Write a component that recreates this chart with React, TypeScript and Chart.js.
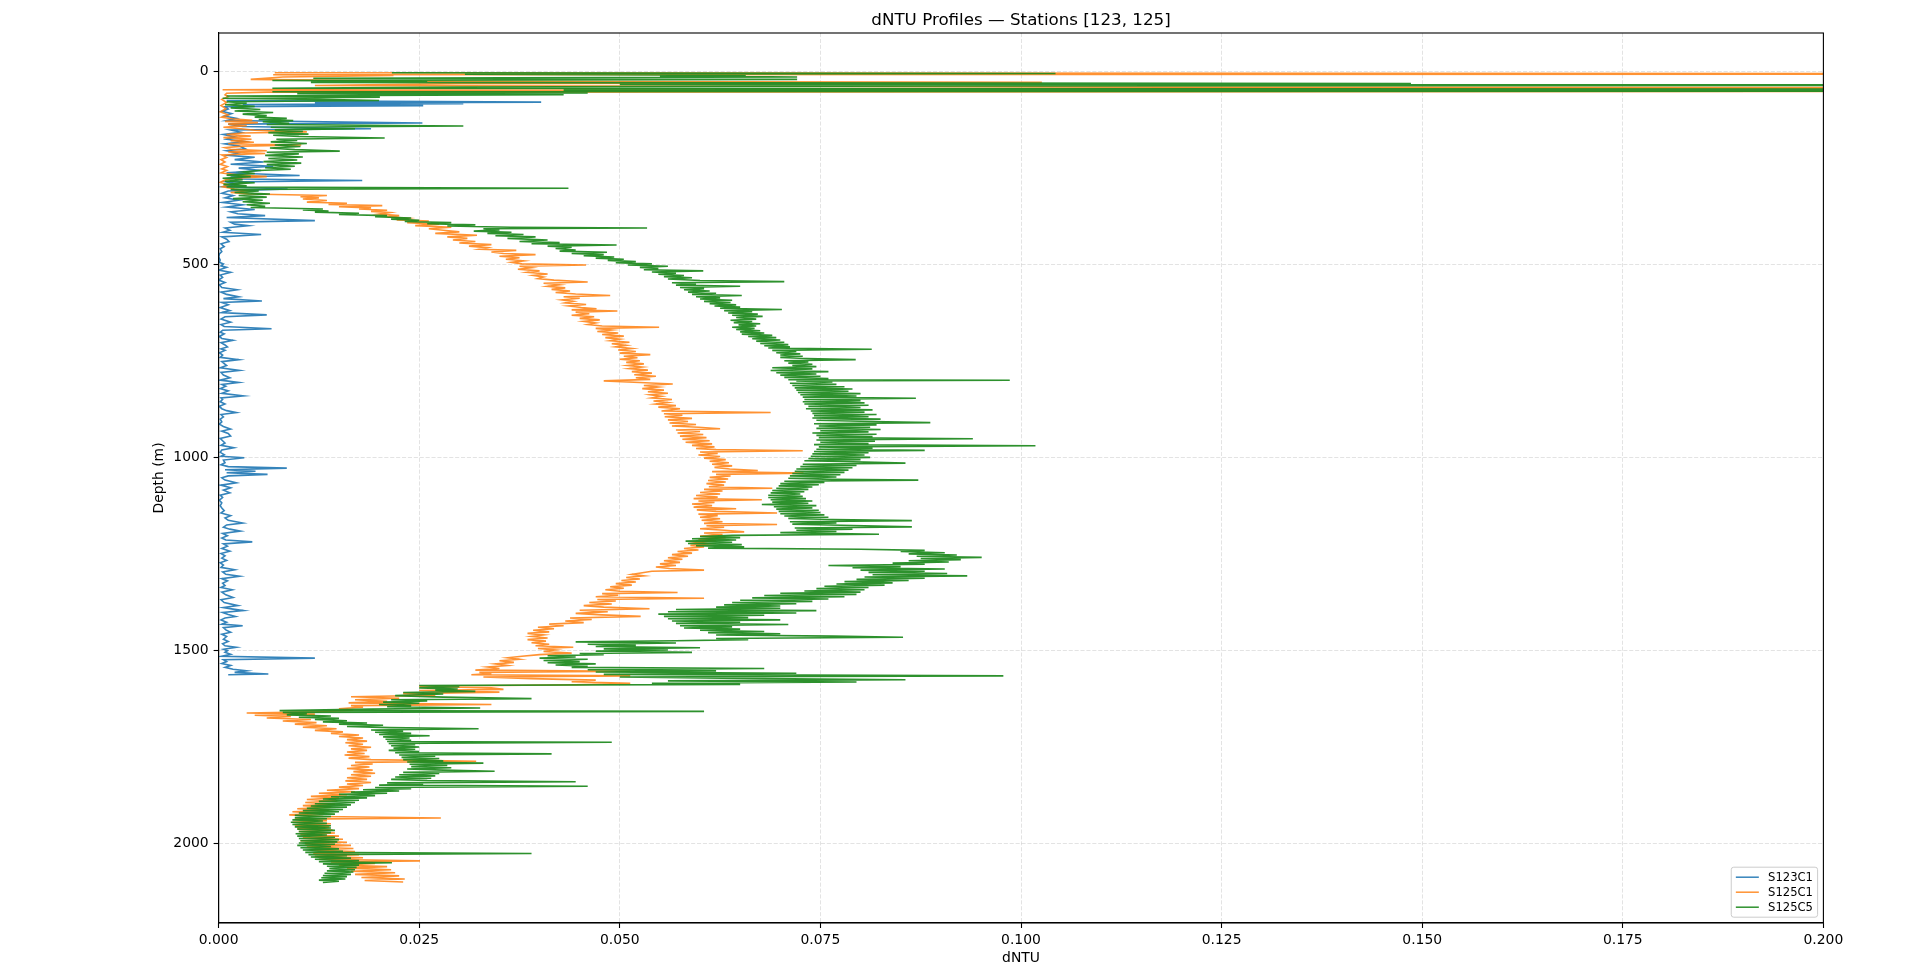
import React, { useEffect, useRef } from "react";
import { Chart, registerables } from "chart.js";

Chart.register(...registerables);

const CHART_TITLE = "dNTU Profiles — Stations [123, 125]";
const X_AXIS_LABEL = "dNTU";
const Y_AXIS_LABEL = "Depth (m)";
const X_TICK_VALUES = [0, 0.025, 0.05, 0.075, 0.1, 0.125, 0.15, 0.175, 0.2];
const Y_TICK_VALUES = [0, 500, 1000, 1500, 2000];
const X_RANGE = [0, 0.2];
const Y_RANGE = [-100, 2205];
const SERIES_LABELS = ["S123C1", "S125C1", "S125C5"];

// [depth (m), dNTU]
const S123C1: [number, number][] = [
  [75, 0.001], [79, 0.0402], [81, 0.012], [83, 0.0305], [85, 0.003], [88, 0.0255], [91, 0.0008], [97, 0.0012],
  [103, 0.0004], [109, 0.0016], [115, 0.0007], [121, 0.0022], [127, 0.001], [133, 0.0254], [136, 0.0012], [142, 0.003],
  [148, 0.019], [151, 0.0015], [157, 0.0028], [163, 0.0006], [169, 0.002], [175, 0.001], [181, 0.0032], [187, 0.0008],
  [193, 0.0026], [200, 0.0033], [205, 0.001], [211, 0.0024], [217, 0.0012], [222, 0.0045], [228, 0.002], [234, 0.0056],
  [240, 0.0015], [245, 0.0068], [250, 0.0025], [256, 0.0053], [262, 0.001], [269, 0.0101], [273, 0.0015], [278, 0.003],
  [282, 0.0179], [286, 0.001], [292, 0.0022], [298, 0.0006], [304, 0.0086], [309, 0.0012], [315, 0.0004], [321, 0.0018],
  [327, 0.0008], [333, 0.0025], [339, 0.0005], [345, 0.003], [351, 0.001], [357, 0.0045], [363, 0.0015], [368, 0.0024],
  [373, 0.0058], [378, 0.001], [386, 0.012], [390, 0.0015], [395, 0.002], [399, 0.0037], [405, 0.0008], [411, 0.0014],
  [416, 0.0005], [422, 0.0053], [428, 0.0004], [434, 0.001], [440, 0.0013], [446, 0.0003], [453, 0.0007], [459, 0.0002],
  [466, 0.0004], [472, 0.0001], [480, 0.0], [488, 0.0002], [494, 0.0001], [498, 0.0006], [503, 0.0003], [507, 0.001],
  [514, 0.0], [520, 0.0015], [527, 0.0002], [533, 0.0005], [540, 0.0], [546, 0.0008], [552, 0.0001], [559, 0.0004],
  [565, 0.0023], [571, 0.0003], [577, 0.001], [583, 0.0025], [588, 0.0006], [594, 0.0054], [598, 0.0004], [604, 0.0012],
  [611, 0.0002], [619, 0.0014], [624, 0.0004], [630, 0.006], [635, 0.0008], [641, 0.0003], [649, 0.0015], [655, 0.0003],
  [660, 0.0007], [666, 0.0066], [670, 0.0005], [675, 0.0002], [679, 0.0007], [686, 0.0001], [691, 0.0004], [696, 0.0018],
  [702, 0.0003], [708, 0.0008], [713, 0.0011], [718, 0.0003], [722, 0.0008], [728, 0.0001], [734, 0.0005], [740, 0.0002],
  [746, 0.0025], [751, 0.0004], [756, 0.0007], [761, 0.001], [767, 0.0002], [774, 0.0026], [779, 0.0003], [786, 0.0006],
  [793, 0.0014], [799, 0.0002], [805, 0.0025], [810, 0.0004], [815, 0.0009], [821, 0.0002], [827, 0.0012], [833, 0.0004],
  [840, 0.0031], [845, 0.0003], [849, 0.0005], [855, 0.0002], [861, 0.0008], [867, 0.0001], [873, 0.0004], [878, 0.001],
  [883, 0.0022], [888, 0.0003], [894, 0.0006], [900, 0.0002], [907, 0.0004], [913, 0.0001], [919, 0.0006], [926, 0.0015],
  [931, 0.0004], [937, 0.0012], [944, 0.0015], [950, 0.0002], [956, 0.0005], [962, 0.0008], [968, 0.0003], [974, 0.0019],
  [980, 0.0004], [986, 0.0002], [992, 0.0007], [996, 0.0003], [1000, 0.0032], [1006, 0.0006], [1013, 0.0008], [1018, 0.0003],
  [1023, 0.0012], [1027, 0.0085], [1031, 0.0008], [1035, 0.0046], [1039, 0.001], [1043, 0.0061], [1047, 0.0012], [1052, 0.0004],
  [1058, 0.0008], [1065, 0.0022], [1071, 0.0003], [1078, 0.0015], [1084, 0.0006], [1091, 0.0014], [1097, 0.0002], [1103, 0.0005],
  [1110, 0.0001], [1117, 0.0004], [1124, 0.0002], [1130, 0.0004], [1137, 0.0007], [1143, 0.0003], [1150, 0.0015], [1156, 0.0008],
  [1162, 0.0012], [1169, 0.003], [1174, 0.001], [1180, 0.0006], [1185, 0.0014], [1190, 0.0027], [1196, 0.0005], [1202, 0.0011],
  [1208, 0.0004], [1213, 0.0009], [1218, 0.0042], [1223, 0.0006], [1229, 0.0011], [1235, 0.0004], [1242, 0.0014], [1248, 0.0003],
  [1254, 0.0008], [1260, 0.0004], [1266, 0.001], [1272, 0.0002], [1278, 0.0006], [1284, 0.0003], [1290, 0.002], [1296, 0.0005],
  [1302, 0.0009], [1307, 0.0026], [1313, 0.0004], [1319, 0.0011], [1325, 0.0005], [1331, 0.0008], [1336, 0.0003], [1342, 0.0017],
  [1348, 0.0004], [1355, 0.0009], [1362, 0.0018], [1368, 0.0003], [1375, 0.0007], [1383, 0.0024], [1388, 0.0006], [1392, 0.0018],
  [1396, 0.0031], [1401, 0.0005], [1406, 0.0012], [1411, 0.0021], [1415, 0.0008], [1420, 0.0003], [1426, 0.001], [1431, 0.0004],
  [1435, 0.003], [1440, 0.0006], [1446, 0.0009], [1452, 0.0015], [1457, 0.0004], [1463, 0.001], [1470, 0.0006], [1476, 0.0012],
  [1482, 0.0005], [1487, 0.0008], [1491, 0.0022], [1496, 0.0006], [1500, 0.0011], [1504, 0.0008], [1509, 0.0015], [1514, 0.0004],
  [1519, 0.012], [1523, 0.0006], [1528, 0.001], [1533, 0.0004], [1538, 0.0015], [1543, 0.0008], [1548, 0.0018], [1552, 0.0035],
  [1556, 0.002], [1560, 0.0062], [1562, 0.0012],
];

const S125C1: [number, number][] = [
  [3, 0.007], [6, 0.26], [8, 0.0068], [10, 0.0218], [14, 0.008], [20, 0.004], [25, 0.0262], [28, 0.1026],
  [31, 0.03], [36, 0.012], [40, 0.1189], [42, 0.25], [45, 0.02], [47, 0.0005], [49, 0.0123], [50, 0.0226],
  [51, 0.24], [53, 0.006], [56, 0.001], [60, 0.0008], [65, 0.0012], [72, 0.0004], [80, 0.001], [88, 0.0003],
  [96, 0.0009], [104, 0.0002], [112, 0.0012], [118, 0.0004], [122, 0.0016], [126, 0.0042], [129, 0.0008], [132, 0.0049],
  [136, 0.0012], [140, 0.0035], [144, 0.0006], [148, 0.0028], [152, 0.0045], [156, 0.011], [159, 0.003], [163, 0.001],
  [167, 0.004], [171, 0.0006], [175, 0.0041], [179, 0.0015], [183, 0.0044], [187, 0.0012], [190, 0.0103], [193, 0.003],
  [197, 0.0008], [201, 0.0015], [205, 0.006], [208, 0.0012], [212, 0.0058], [216, 0.0004], [222, 0.001], [228, 0.0003],
  [234, 0.0008], [240, 0.0002], [246, 0.0011], [252, 0.0004], [256, 0.001], [262, 0.0003], [268, 0.0025], [272, 0.006],
  [276, 0.0018], [281, 0.0008], [287, 0.0002], [293, 0.0012], [298, 0.0005], [304, 0.002], [309, 0.0035], [313, 0.0015],
  [317, 0.0038], [321, 0.0135], [324, 0.0102], [327, 0.0125], [330, 0.0105], [334, 0.0135], [338, 0.011], [341, 0.016],
  [344, 0.0137], [347, 0.0204], [350, 0.015], [353, 0.019], [356, 0.0175], [359, 0.021], [362, 0.019], [365, 0.0213],
  [369, 0.02], [373, 0.0225], [376, 0.021], [380, 0.0236], [384, 0.0222], [387, 0.0262], [391, 0.0235], [395, 0.0275],
  [399, 0.0245], [403, 0.029], [407, 0.0262], [411, 0.028], [415, 0.03], [419, 0.027], [424, 0.0322], [428, 0.0285],
  [432, 0.031], [436, 0.0292], [440, 0.032], [444, 0.03], [448, 0.034], [452, 0.0312], [456, 0.0335], [460, 0.0325],
  [463, 0.0371], [467, 0.034], [471, 0.0355], [474, 0.0395], [478, 0.035], [482, 0.0375], [486, 0.0358], [490, 0.038],
  [494, 0.0365], [498, 0.0378], [501, 0.0458], [504, 0.0375], [508, 0.039], [512, 0.0373], [516, 0.04], [520, 0.0385],
  [524, 0.041], [528, 0.0392], [532, 0.0405], [536, 0.0398], [540, 0.0418], [545, 0.046], [548, 0.0405], [552, 0.0425],
  [556, 0.041], [560, 0.0432], [564, 0.0415], [568, 0.0438], [572, 0.042], [576, 0.0445], [580, 0.0488], [583, 0.043],
  [587, 0.045], [591, 0.0428], [595, 0.0442], [599, 0.0432], [603, 0.0458], [607, 0.0436], [611, 0.0452], [614, 0.0471],
  [617, 0.044], [620, 0.0497], [623, 0.0445], [627, 0.0462], [631, 0.044], [635, 0.0468], [639, 0.045], [643, 0.0475],
  [647, 0.0455], [651, 0.047], [655, 0.046], [659, 0.0478], [662, 0.0549], [665, 0.047], [669, 0.049], [673, 0.0472],
  [677, 0.0498], [681, 0.0478], [685, 0.0505], [689, 0.0482], [693, 0.05], [697, 0.0488], [701, 0.0512], [705, 0.049],
  [709, 0.0508], [713, 0.0495], [717, 0.0515], [721, 0.0498], [725, 0.052], [729, 0.05], [733, 0.0538], [737, 0.0505],
  [741, 0.0522], [745, 0.05], [749, 0.0525], [753, 0.0508], [757, 0.053], [761, 0.051], [765, 0.0528], [769, 0.0512],
  [773, 0.0535], [777, 0.0515], [781, 0.054], [785, 0.0518], [789, 0.0545], [793, 0.052], [797, 0.0538], [801, 0.048],
  [805, 0.0525], [809, 0.0566], [813, 0.053], [817, 0.0548], [821, 0.0528], [825, 0.0555], [829, 0.0535], [833, 0.056],
  [837, 0.0538], [841, 0.0552], [845, 0.054], [849, 0.0565], [853, 0.0542], [857, 0.056], [861, 0.0545], [865, 0.057],
  [869, 0.0548], [873, 0.0575], [879, 0.0552], [883, 0.0688], [886, 0.0555], [890, 0.0578], [894, 0.0556], [898, 0.059],
  [902, 0.056], [906, 0.0585], [910, 0.0562], [914, 0.0595], [918, 0.0565], [921, 0.0598], [925, 0.0625], [928, 0.057],
  [932, 0.06], [936, 0.0572], [940, 0.0604], [944, 0.0575], [948, 0.0608], [952, 0.0578], [956, 0.0612], [960, 0.0582],
  [964, 0.0615], [968, 0.059], [972, 0.0618], [976, 0.0595], [979, 0.062], [982, 0.0728], [985, 0.06], [989, 0.0622],
  [993, 0.0598], [997, 0.0625], [1001, 0.0605], [1005, 0.0632], [1009, 0.0612], [1013, 0.0636], [1017, 0.0615], [1021, 0.064],
  [1025, 0.0618], [1029, 0.0637], [1033, 0.0672], [1036, 0.0615], [1040, 0.0729], [1043, 0.062], [1047, 0.0638], [1051, 0.0612],
  [1055, 0.0635], [1059, 0.061], [1063, 0.0632], [1067, 0.0608], [1071, 0.063], [1075, 0.0611], [1079, 0.069], [1082, 0.0605],
  [1086, 0.0628], [1090, 0.06], [1094, 0.0625], [1098, 0.0595], [1102, 0.0622], [1106, 0.0592], [1109, 0.0677], [1112, 0.0598],
  [1116, 0.0618], [1120, 0.059], [1124, 0.0615], [1128, 0.0592], [1132, 0.0645], [1135, 0.0596], [1139, 0.062], [1143, 0.0696],
  [1146, 0.0598], [1150, 0.0622], [1154, 0.06], [1158, 0.0625], [1162, 0.0602], [1166, 0.0628], [1170, 0.0605], [1173, 0.0696],
  [1176, 0.0608], [1180, 0.063], [1184, 0.06], [1188, 0.063], [1192, 0.0655], [1195, 0.0605], [1199, 0.0628], [1203, 0.06],
  [1207, 0.0632], [1211, 0.0598], [1215, 0.062], [1219, 0.0595], [1223, 0.061], [1227, 0.0588], [1231, 0.0605], [1235, 0.058],
  [1239, 0.0598], [1243, 0.0572], [1247, 0.059], [1251, 0.0565], [1255, 0.0585], [1259, 0.056], [1263, 0.0578], [1267, 0.0555],
  [1271, 0.0575], [1275, 0.055], [1279, 0.057], [1283, 0.0545], [1287, 0.0562], [1291, 0.0605], [1294, 0.054], [1298, 0.0528],
  [1302, 0.0515], [1306, 0.053], [1310, 0.0508], [1314, 0.0525], [1318, 0.0502], [1322, 0.052], [1326, 0.0495], [1330, 0.0515],
  [1334, 0.0488], [1338, 0.0505], [1342, 0.0482], [1346, 0.05], [1349, 0.0572], [1352, 0.0478], [1356, 0.0498], [1360, 0.047],
  [1364, 0.0605], [1367, 0.0472], [1371, 0.0495], [1375, 0.0462], [1379, 0.049], [1383, 0.0455], [1387, 0.048], [1391, 0.0537],
  [1395, 0.045], [1399, 0.0485], [1403, 0.0445], [1407, 0.0478], [1411, 0.0526], [1415, 0.0438], [1419, 0.0465], [1423, 0.0432],
  [1427, 0.0455], [1431, 0.0412], [1435, 0.043], [1439, 0.0398], [1443, 0.0418], [1447, 0.0392], [1451, 0.0412], [1455, 0.0385],
  [1459, 0.0405], [1463, 0.039], [1467, 0.041], [1471, 0.0385], [1475, 0.0408], [1479, 0.039], [1483, 0.0412], [1487, 0.0395],
  [1491, 0.0442], [1494, 0.0398], [1498, 0.042], [1502, 0.0405], [1506, 0.044], [1510, 0.04], [1514, 0.0378], [1518, 0.036],
  [1522, 0.0375], [1526, 0.035], [1530, 0.0368], [1534, 0.0345], [1538, 0.036], [1542, 0.0335], [1546, 0.035], [1550, 0.032],
  [1553, 0.0513], [1556, 0.0325], [1559, 0.034], [1562, 0.0315], [1565, 0.0513], [1568, 0.033], [1572, 0.039], [1576, 0.047],
  [1580, 0.044], [1584, 0.0513], [1588, 0.0445], [1592, 0.025], [1596, 0.034], [1600, 0.0355], [1603, 0.025], [1607, 0.035],
  [1611, 0.023], [1615, 0.027], [1619, 0.0165], [1623, 0.0225], [1627, 0.017], [1631, 0.021], [1635, 0.0162], [1639, 0.034],
  [1642, 0.0165], [1646, 0.018], [1650, 0.015], [1654, 0.0168], [1658, 0.0122], [1661, 0.0035], [1664, 0.012], [1667, 0.0045],
  [1670, 0.009], [1674, 0.006], [1678, 0.0115], [1682, 0.008], [1686, 0.0122], [1690, 0.0095], [1694, 0.0135], [1698, 0.0105],
  [1702, 0.0147], [1706, 0.012], [1710, 0.0155], [1714, 0.014], [1718, 0.0175], [1722, 0.015], [1726, 0.018], [1730, 0.016],
  [1734, 0.0185], [1738, 0.0158], [1742, 0.018], [1746, 0.0162], [1750, 0.019], [1754, 0.0165], [1758, 0.0185], [1762, 0.016],
  [1766, 0.0182], [1770, 0.0157], [1774, 0.0188], [1778, 0.0162], [1782, 0.019], [1786, 0.0321], [1789, 0.017], [1793, 0.0192],
  [1797, 0.0165], [1801, 0.0188], [1805, 0.016], [1809, 0.0192], [1813, 0.0168], [1817, 0.0195], [1821, 0.0165], [1825, 0.019],
  [1829, 0.016], [1833, 0.0185], [1837, 0.0158], [1841, 0.019], [1845, 0.016], [1849, 0.018], [1853, 0.015], [1857, 0.0175],
  [1861, 0.0135], [1865, 0.017], [1869, 0.0125], [1873, 0.016], [1877, 0.0115], [1881, 0.015], [1885, 0.011], [1889, 0.0148],
  [1893, 0.0108], [1897, 0.0145], [1901, 0.0105], [1905, 0.014], [1909, 0.0098], [1913, 0.0138], [1917, 0.0092], [1921, 0.0132],
  [1925, 0.0088], [1929, 0.013], [1933, 0.0277], [1936, 0.0095], [1940, 0.0135], [1944, 0.0092], [1948, 0.014], [1952, 0.0095],
  [1956, 0.0138], [1960, 0.0098], [1964, 0.0142], [1968, 0.01], [1972, 0.0145], [1976, 0.0102], [1980, 0.015], [1984, 0.0105],
  [1988, 0.0155], [1992, 0.0102], [1996, 0.016], [2000, 0.0108], [2004, 0.0165], [2008, 0.011], [2012, 0.0168], [2016, 0.0115],
  [2020, 0.017], [2024, 0.0118], [2028, 0.0175], [2032, 0.012], [2036, 0.018], [2040, 0.0125], [2044, 0.0251], [2047, 0.014],
  [2051, 0.0195], [2055, 0.015], [2059, 0.021], [2063, 0.016], [2067, 0.0215], [2071, 0.0165], [2075, 0.022], [2079, 0.017],
  [2083, 0.0225], [2087, 0.0178], [2091, 0.0232], [2095, 0.0182], [2099, 0.023],
];

const S125C5: [number, number][] = [
  [3, 0.0216], [5, 0.1043], [7, 0.0307], [9, 0.0657], [11, 0.055], [14, 0.0721], [17, 0.0118], [20, 0.0721],
  [23, 0.0067], [25, 0.026], [28, 0.0115], [31, 0.1486], [33, 0.05], [35, 0.28], [37, 0.0925], [40, 0.03],
  [43, 0.0067], [46, 0.27], [48, 0.043], [50, 0.26], [52, 0.0067], [55, 0.046], [57, 0.0098], [60, 0.043],
  [63, 0.001], [66, 0.0201], [69, 0.0005], [72, 0.0125], [75, 0.02], [78, 0.001], [82, 0.0035], [86, 0.0008],
  [90, 0.0045], [94, 0.0015], [98, 0.0052], [102, 0.002], [106, 0.0068], [110, 0.003], [114, 0.006], [118, 0.0045],
  [121, 0.0085], [124, 0.005], [127, 0.0093], [130, 0.0055], [134, 0.0088], [137, 0.006], [141, 0.0305], [144, 0.0065],
  [148, 0.017], [151, 0.007], [155, 0.0105], [158, 0.0062], [162, 0.0112], [165, 0.0068], [168, 0.01], [172, 0.0207],
  [175, 0.0072], [178, 0.0098], [182, 0.0065], [186, 0.011], [190, 0.007], [194, 0.0102], [198, 0.0064], [202, 0.0095],
  [206, 0.0151], [209, 0.006], [213, 0.01], [217, 0.0058], [221, 0.0105], [225, 0.0062], [229, 0.0098], [233, 0.0056],
  [237, 0.0103], [241, 0.006], [245, 0.0095], [249, 0.0058], [253, 0.009], [256, 0.005], [260, 0.003], [264, 0.0045],
  [268, 0.001], [272, 0.004], [276, 0.0005], [280, 0.003], [284, 0.0008], [288, 0.0045], [292, 0.0006], [296, 0.0035],
  [299, 0.001], [302, 0.0436], [305, 0.0015], [309, 0.005], [313, 0.002], [317, 0.0064], [321, 0.0025], [325, 0.006],
  [329, 0.0018], [333, 0.0055], [337, 0.003], [341, 0.0064], [345, 0.0035], [349, 0.0058], [352, 0.004], [356, 0.013],
  [358, 0.0105], [361, 0.0137], [364, 0.012], [367, 0.0175], [370, 0.015], [373, 0.021], [376, 0.0195], [379, 0.024],
  [382, 0.0215], [385, 0.025], [388, 0.0232], [391, 0.029], [394, 0.026], [397, 0.032], [400, 0.0285], [403, 0.0364],
  [405, 0.0534], [407, 0.033], [410, 0.035], [413, 0.0318], [416, 0.0365], [419, 0.0335], [422, 0.038], [425, 0.0345],
  [428, 0.0395], [432, 0.036], [436, 0.041], [440, 0.0375], [443, 0.0425], [446, 0.039], [449, 0.0496], [452, 0.041],
  [455, 0.044], [458, 0.042], [462, 0.0445], [465, 0.0425], [468, 0.0484], [471, 0.044], [474, 0.048], [477, 0.0455],
  [480, 0.0493], [483, 0.047], [486, 0.0505], [489, 0.0485], [492, 0.052], [495, 0.0495], [498, 0.054], [501, 0.051],
  [504, 0.056], [507, 0.0525], [510, 0.0548], [513, 0.053], [516, 0.0604], [519, 0.054], [522, 0.057], [525, 0.0548],
  [528, 0.058], [531, 0.0555], [534, 0.059], [537, 0.056], [541, 0.06], [544, 0.0705], [547, 0.0565], [550, 0.0595],
  [553, 0.057], [556, 0.065], [559, 0.0575], [562, 0.0605], [565, 0.058], [568, 0.0612], [571, 0.0585], [574, 0.062],
  [577, 0.059], [580, 0.0652], [583, 0.0595], [586, 0.0625], [589, 0.06], [592, 0.064], [595, 0.0605], [598, 0.0638],
  [601, 0.0612], [604, 0.0645], [607, 0.0618], [610, 0.065], [613, 0.0625], [616, 0.0702], [619, 0.063], [622, 0.0665],
  [625, 0.0635], [628, 0.0672], [631, 0.064], [634, 0.0678], [637, 0.0645], [641, 0.067], [644, 0.0638], [647, 0.0665],
  [650, 0.0642], [653, 0.0675], [656, 0.0648], [659, 0.067], [662, 0.064], [665, 0.0668], [668, 0.0645], [671, 0.0675],
  [674, 0.065], [677, 0.068], [680, 0.0652], [683, 0.069], [686, 0.066], [689, 0.0695], [692, 0.0665], [695, 0.07],
  [698, 0.067], [701, 0.0705], [704, 0.0675], [707, 0.071], [710, 0.068], [713, 0.0712], [716, 0.0685], [719, 0.0814],
  [722, 0.069], [725, 0.072], [728, 0.0695], [731, 0.0725], [734, 0.07], [737, 0.0728], [740, 0.07], [743, 0.0732],
  [746, 0.0794], [749, 0.0705], [752, 0.0735], [755, 0.071], [758, 0.074], [761, 0.0715], [764, 0.0745], [767, 0.069],
  [770, 0.074], [774, 0.0688], [777, 0.076], [780, 0.0695], [783, 0.0745], [786, 0.07], [789, 0.075], [792, 0.0705],
  [795, 0.076], [798, 0.071], [799.5, 0.0986], [801, 0.072], [804, 0.0765], [807, 0.0712], [810, 0.077], [813, 0.0715],
  [816, 0.078], [819, 0.0718], [822, 0.079], [825, 0.072], [828, 0.0785], [831, 0.0722], [834, 0.08], [837, 0.0725],
  [840, 0.0795], [843, 0.0728], [846, 0.0869], [849, 0.073], [852, 0.08], [855, 0.0728], [858, 0.0805], [861, 0.073],
  [864, 0.081], [867, 0.0735], [870, 0.08], [873, 0.0732], [876, 0.0815], [879, 0.0738], [882, 0.0805], [885, 0.074],
  [888, 0.082], [891, 0.0742], [894, 0.081], [897, 0.074], [900, 0.0825], [903, 0.0745], [906, 0.0815], [909, 0.0887],
  [912, 0.0742], [915, 0.082], [918, 0.0748], [921, 0.0812], [924, 0.0745], [927, 0.0825], [930, 0.075], [933, 0.081],
  [936, 0.074], [939, 0.082], [942, 0.0745], [945, 0.0815], [948, 0.0748], [951, 0.094], [954, 0.0745], [957, 0.0818],
  [960, 0.075], [963, 0.081], [966, 0.0742], [969, 0.1018], [972, 0.0748], [975, 0.0815], [978, 0.0745], [981, 0.088],
  [984, 0.0742], [987, 0.081], [990, 0.074], [993, 0.0805], [996, 0.0738], [999, 0.0812], [1002, 0.0735], [1005, 0.08],
  [1008, 0.073], [1011, 0.0805], [1014, 0.0856], [1017, 0.0728], [1020, 0.0795], [1023, 0.0725], [1026, 0.079], [1029, 0.072],
  [1032, 0.0785], [1035, 0.0718], [1038, 0.078], [1041, 0.0715], [1044, 0.0775], [1047, 0.0712], [1050, 0.077], [1053, 0.071],
  [1056, 0.0765], [1058, 0.0872], [1061, 0.0705], [1064, 0.0755], [1067, 0.07], [1070, 0.0748], [1073, 0.0698], [1076, 0.074],
  [1079, 0.0695], [1082, 0.0735], [1085, 0.069], [1088, 0.073], [1091, 0.0688], [1094, 0.0725], [1097, 0.0685], [1100, 0.0728],
  [1103, 0.0685], [1106, 0.0732], [1109, 0.0688], [1112, 0.074], [1115, 0.069], [1118, 0.0735], [1121, 0.0677], [1124, 0.0745],
  [1127, 0.0692], [1130, 0.074], [1133, 0.0695], [1136, 0.0748], [1139, 0.0698], [1142, 0.075], [1145, 0.07], [1148, 0.0755],
  [1151, 0.0705], [1154, 0.076], [1157, 0.071], [1160, 0.0765], [1163, 0.0864], [1166, 0.0712], [1169, 0.077], [1172, 0.0715],
  [1175, 0.0775], [1179, 0.0864], [1182, 0.0718], [1185, 0.079], [1188, 0.072], [1191, 0.077], [1194, 0.07], [1198, 0.0823],
  [1201, 0.064], [1204, 0.06], [1207, 0.065], [1210, 0.059], [1213, 0.0645], [1216, 0.0582], [1219, 0.064], [1222, 0.0585],
  [1225, 0.0652], [1228, 0.0595], [1231, 0.0655], [1234, 0.061], [1237, 0.08], [1240, 0.088], [1243, 0.085], [1246, 0.0905],
  [1249, 0.086], [1252, 0.092], [1255, 0.087], [1258, 0.0951], [1261, 0.0875], [1264, 0.0925], [1267, 0.086], [1270, 0.091],
  [1273, 0.084], [1276, 0.088], [1279, 0.076], [1282, 0.085], [1285, 0.079], [1288, 0.0905], [1291, 0.08], [1294, 0.088],
  [1297, 0.081], [1300, 0.0908], [1303, 0.0815], [1306, 0.0933], [1309, 0.0805], [1312, 0.088], [1315, 0.0795], [1318, 0.086],
  [1321, 0.078], [1324, 0.084], [1327, 0.077], [1330, 0.083], [1333, 0.0755], [1336, 0.081], [1339, 0.0745], [1342, 0.0805],
  [1345, 0.073], [1348, 0.08], [1351, 0.07], [1354, 0.0795], [1357, 0.068], [1360, 0.078], [1363, 0.0665], [1366, 0.076],
  [1369, 0.065], [1372, 0.074], [1375, 0.064], [1378, 0.072], [1381, 0.063], [1384, 0.07], [1387, 0.062], [1390, 0.07],
  [1393, 0.057], [1396, 0.0745], [1399, 0.056], [1402, 0.072], [1405, 0.0548], [1408, 0.068], [1411, 0.0555], [1414, 0.066],
  [1417, 0.056], [1420, 0.07], [1423, 0.0565], [1426, 0.065], [1429, 0.057], [1432, 0.071], [1435, 0.0575], [1438, 0.064],
  [1441, 0.058], [1444, 0.065], [1447, 0.06], [1450, 0.068], [1453, 0.061], [1456, 0.07], [1459, 0.062], [1462, 0.0766],
  [1465, 0.0853], [1468, 0.062], [1471, 0.066], [1474, 0.057], [1477, 0.0445], [1480, 0.057], [1483, 0.046], [1486, 0.052],
  [1489, 0.047], [1492, 0.06], [1495, 0.048], [1498, 0.056], [1501, 0.047], [1504, 0.059], [1507, 0.045], [1510, 0.048],
  [1513, 0.041], [1516, 0.0445], [1519, 0.04], [1522, 0.046], [1525, 0.0405], [1528, 0.045], [1531, 0.041], [1534, 0.047],
  [1537, 0.042], [1540, 0.046], [1543, 0.044], [1546, 0.068], [1549, 0.046], [1552, 0.062], [1555, 0.047], [1558, 0.072],
  [1561, 0.048], [1565, 0.0978], [1568, 0.05], [1572, 0.068], [1575, 0.0856], [1578, 0.056], [1581, 0.0795], [1584, 0.054],
  [1587, 0.065], [1590, 0.025], [1593, 0.03], [1596, 0.025], [1599, 0.0298], [1602, 0.027], [1605, 0.032], [1608, 0.023],
  [1612, 0.028], [1616, 0.022], [1620, 0.028], [1624, 0.039], [1627, 0.0215], [1630, 0.026], [1633, 0.0205], [1636, 0.025],
  [1639, 0.02], [1642, 0.024], [1645, 0.021], [1648, 0.0326], [1651, 0.019], [1655, 0.0076], [1657, 0.0605], [1660, 0.008],
  [1663, 0.011], [1666, 0.0085], [1669, 0.014], [1672, 0.01], [1675, 0.015], [1678, 0.012], [1681, 0.016], [1684, 0.013],
  [1687, 0.0185], [1690, 0.015], [1693, 0.0205], [1696, 0.016], [1699, 0.0213], [1702, 0.0324], [1705, 0.019], [1708, 0.023],
  [1711, 0.0195], [1714, 0.024], [1717, 0.02], [1720, 0.0263], [1723, 0.0205], [1726, 0.0238], [1729, 0.0208], [1732, 0.024],
  [1735, 0.021], [1737, 0.049], [1740, 0.0212], [1743, 0.0245], [1746, 0.0215], [1749, 0.025], [1752, 0.0218], [1755, 0.0245],
  [1758, 0.0212], [1761, 0.025], [1764, 0.022], [1767, 0.0415], [1770, 0.0225], [1773, 0.027], [1776, 0.0228], [1779, 0.0275],
  [1782, 0.023], [1785, 0.028], [1788, 0.0235], [1791, 0.033], [1794, 0.0238], [1797, 0.0285], [1800, 0.024], [1803, 0.029],
  [1806, 0.0235], [1809, 0.028], [1812, 0.0344], [1815, 0.023], [1818, 0.0275], [1821, 0.0225], [1824, 0.027], [1827, 0.022],
  [1830, 0.0265], [1833, 0.0215], [1836, 0.026], [1839, 0.0445], [1842, 0.021], [1845, 0.0255], [1848, 0.02], [1851, 0.046],
  [1854, 0.0195], [1857, 0.024], [1860, 0.018], [1863, 0.0225], [1866, 0.0165], [1869, 0.021], [1872, 0.015], [1875, 0.0195],
  [1878, 0.014], [1881, 0.0185], [1884, 0.013], [1887, 0.0175], [1890, 0.0125], [1893, 0.017], [1896, 0.012], [1899, 0.0165],
  [1902, 0.0115], [1905, 0.016], [1908, 0.011], [1911, 0.0155], [1914, 0.0105], [1917, 0.015], [1920, 0.01], [1923, 0.0145],
  [1926, 0.0095], [1929, 0.014], [1932, 0.0095], [1935, 0.0135], [1938, 0.0092], [1941, 0.013], [1944, 0.009], [1947, 0.0135],
  [1950, 0.0092], [1953, 0.014], [1956, 0.0095], [1959, 0.014], [1962, 0.0098], [1965, 0.0145], [1968, 0.01], [1971, 0.014],
  [1974, 0.0096], [1977, 0.0135], [1980, 0.0098], [1983, 0.0145], [1986, 0.01], [1989, 0.015], [1992, 0.0102], [1995, 0.0148],
  [1998, 0.01], [2001, 0.0145], [2004, 0.0098], [2007, 0.014], [2010, 0.0102], [2013, 0.015], [2016, 0.0105], [2019, 0.0155],
  [2022, 0.0108], [2025, 0.039], [2028, 0.0112], [2031, 0.016], [2034, 0.0115], [2037, 0.0165], [2040, 0.012], [2043, 0.0175],
  [2046, 0.0125], [2049, 0.0216], [2052, 0.013], [2055, 0.0175], [2058, 0.0135], [2061, 0.0172], [2064, 0.0138], [2067, 0.017],
  [2070, 0.0135], [2073, 0.0168], [2076, 0.0132], [2079, 0.0165], [2082, 0.013], [2085, 0.016], [2088, 0.0128], [2091, 0.0158],
  [2094, 0.0125], [2097, 0.015], [2100, 0.013],
];

const FONT_FAMILY = "'DejaVu Sans', 'Liberation Sans', sans-serif";
const SERIES_COLORS = ["rgba(31,119,180,0.9)", "rgba(255,127,14,0.85)", "rgba(34,139,34,0.95)"];

export default function App() {
  const canvasRef = useRef<HTMLCanvasElement | null>(null);

  useEffect(() => {
    const canvas = canvasRef.current;
    if (!canvas) return;
    const seriesList = [S123C1, S125C1, S125C5];

    const decorPlugin = {
      id: "mplDecor",
      beforeDraw(chart: any) {
        const { ctx, width, height } = chart;
        ctx.save();
        ctx.fillStyle = "#ffffff";
        ctx.fillRect(0, 0, width, height);
        ctx.restore();
      },
      afterDraw(chart: any) {
        const { ctx, chartArea: a } = chart;
        ctx.save();
        // frame (all four spines)
        ctx.strokeStyle = "#000";
        ctx.lineWidth = 1.1;
        ctx.setLineDash([]);
        ctx.strokeRect(a.left, a.top, a.right - a.left, a.bottom - a.top);
        // title
        ctx.fillStyle = "#000";
        ctx.font = `16.7px ${FONT_FAMILY}`;
        ctx.textAlign = "center";
        ctx.textBaseline = "alphabetic";
        ctx.fillText(CHART_TITLE, (a.left + a.right) / 2, a.top - 8.3);
        // legend (lower right)
        const fs = 11.6;
        ctx.font = `${fs}px ${FONT_FAMILY}`;
        const textW = Math.max(...SERIES_LABELS.map((t) => ctx.measureText(t).width));
        const pad = 4.6;
        const handle = 23;
        const gap = 9.2;
        const boxW = pad + handle + gap + textW + pad;
        const rowH = 15;
        const boxH = 50;
        const right = a.right - 5.8;
        const bottom = a.bottom - 5.8;
        const left = right - boxW;
        const top = bottom - boxH;
        ctx.beginPath();
        ctx.roundRect(left, top, boxW, boxH, 2.5);
        ctx.fillStyle = "rgba(255,255,255,0.8)";
        ctx.fill();
        ctx.strokeStyle = "#cccccc";
        ctx.lineWidth = 1;
        ctx.stroke();
        SERIES_LABELS.forEach((label, i) => {
          const cy = top + 10 + i * rowH;
          ctx.beginPath();
          ctx.strokeStyle = SERIES_COLORS[i];
          ctx.lineWidth = 1.5;
          ctx.moveTo(left + pad, cy);
          ctx.lineTo(left + pad + handle, cy);
          ctx.stroke();
          ctx.fillStyle = "#000";
          ctx.textAlign = "left";
          ctx.textBaseline = "middle";
          ctx.fillText(label, left + pad + handle + gap, cy + 0.5);
        });
        ctx.restore();
      },
    };

    const tickFont = { family: FONT_FAMILY, size: 13.9 };
    const gridCommon = {
      color: "rgba(176,176,176,0.35)",
      lineWidth: 1,
      drawTicks: true,
      tickLength: 5,
      tickColor: "#000",
      tickWidth: 1.1,
      tickBorderDash: [],
    };
    const borderCommon = { display: true, color: "#000", width: 1.1, dash: [4.1, 1.8] };

    const chart = new Chart(canvas, {
      type: "scatter",
      data: {
        datasets: seriesList.map((pts, i) => ({
          label: SERIES_LABELS[i],
          data: pts.map(([depth, v]) => ({ x: v, y: depth })),
          showLine: true,
          borderColor: SERIES_COLORS[i],
          backgroundColor: SERIES_COLORS[i],
          borderWidth: 1.6,
          pointRadius: 0,
          pointHoverRadius: 0,
          tension: 0,
          fill: false,
          order: 3 - i,
        })),
      },
      options: {
        responsive: false,
        animation: false,
        events: [],
        layout: { padding: { left: 0, right: 1920 - 1823.4, top: 33, bottom: 0 } },
        plugins: {
          legend: { display: false },
          title: { display: false },
          tooltip: { enabled: false },
        },
        scales: {
          x: {
            type: "linear",
            position: "bottom",
            min: X_RANGE[0],
            max: X_RANGE[1],
            afterBuildTicks: (scale: any) => {
              scale.ticks = X_TICK_VALUES.map((value) => ({ value }));
            },
            afterFit: (scale: any) => {
              scale.height = 52;
            },
            ticks: {
              autoSkip: false,
              maxRotation: 0,
              padding: 4,
              color: "#000",
              font: tickFont,
              callback: (v: any) => Number(v).toFixed(3),
            },
            grid: gridCommon,
            border: borderCommon,
            title: {
              display: true,
              text: X_AXIS_LABEL,
              color: "#000",
              font: tickFont,
              padding: { top: 0, bottom: 8 },
            },
          },
          y: {
            type: "linear",
            position: "left",
            reverse: true,
            min: Y_RANGE[0],
            max: Y_RANGE[1],
            afterBuildTicks: (scale: any) => {
              scale.ticks = Y_TICK_VALUES.map((value) => ({ value }));
            },
            afterFit: (scale: any) => {
              scale.width = 218.6;
            },
            ticks: {
              autoSkip: false,
              padding: 4.9,
              color: "#000",
              font: tickFont,
              callback: (v: any) => String(v),
            },
            grid: gridCommon,
            border: borderCommon,
            title: {
              display: true,
              text: Y_AXIS_LABEL,
              color: "#000",
              font: tickFont,
              padding: { top: 150.9, bottom: 0 },
            },
          },
        },
      },
      plugins: [decorPlugin],
    } as any);

    return () => chart.destroy();
  }, []);

  return (
    <div style={{ position: "absolute", left: 0, top: 0, width: 1920, height: 975, background: "#fff" }}>
      <canvas ref={canvasRef} width={1920} height={975} style={{ display: "block", width: 1920, height: 975 }} />
    </div>
  );
}
